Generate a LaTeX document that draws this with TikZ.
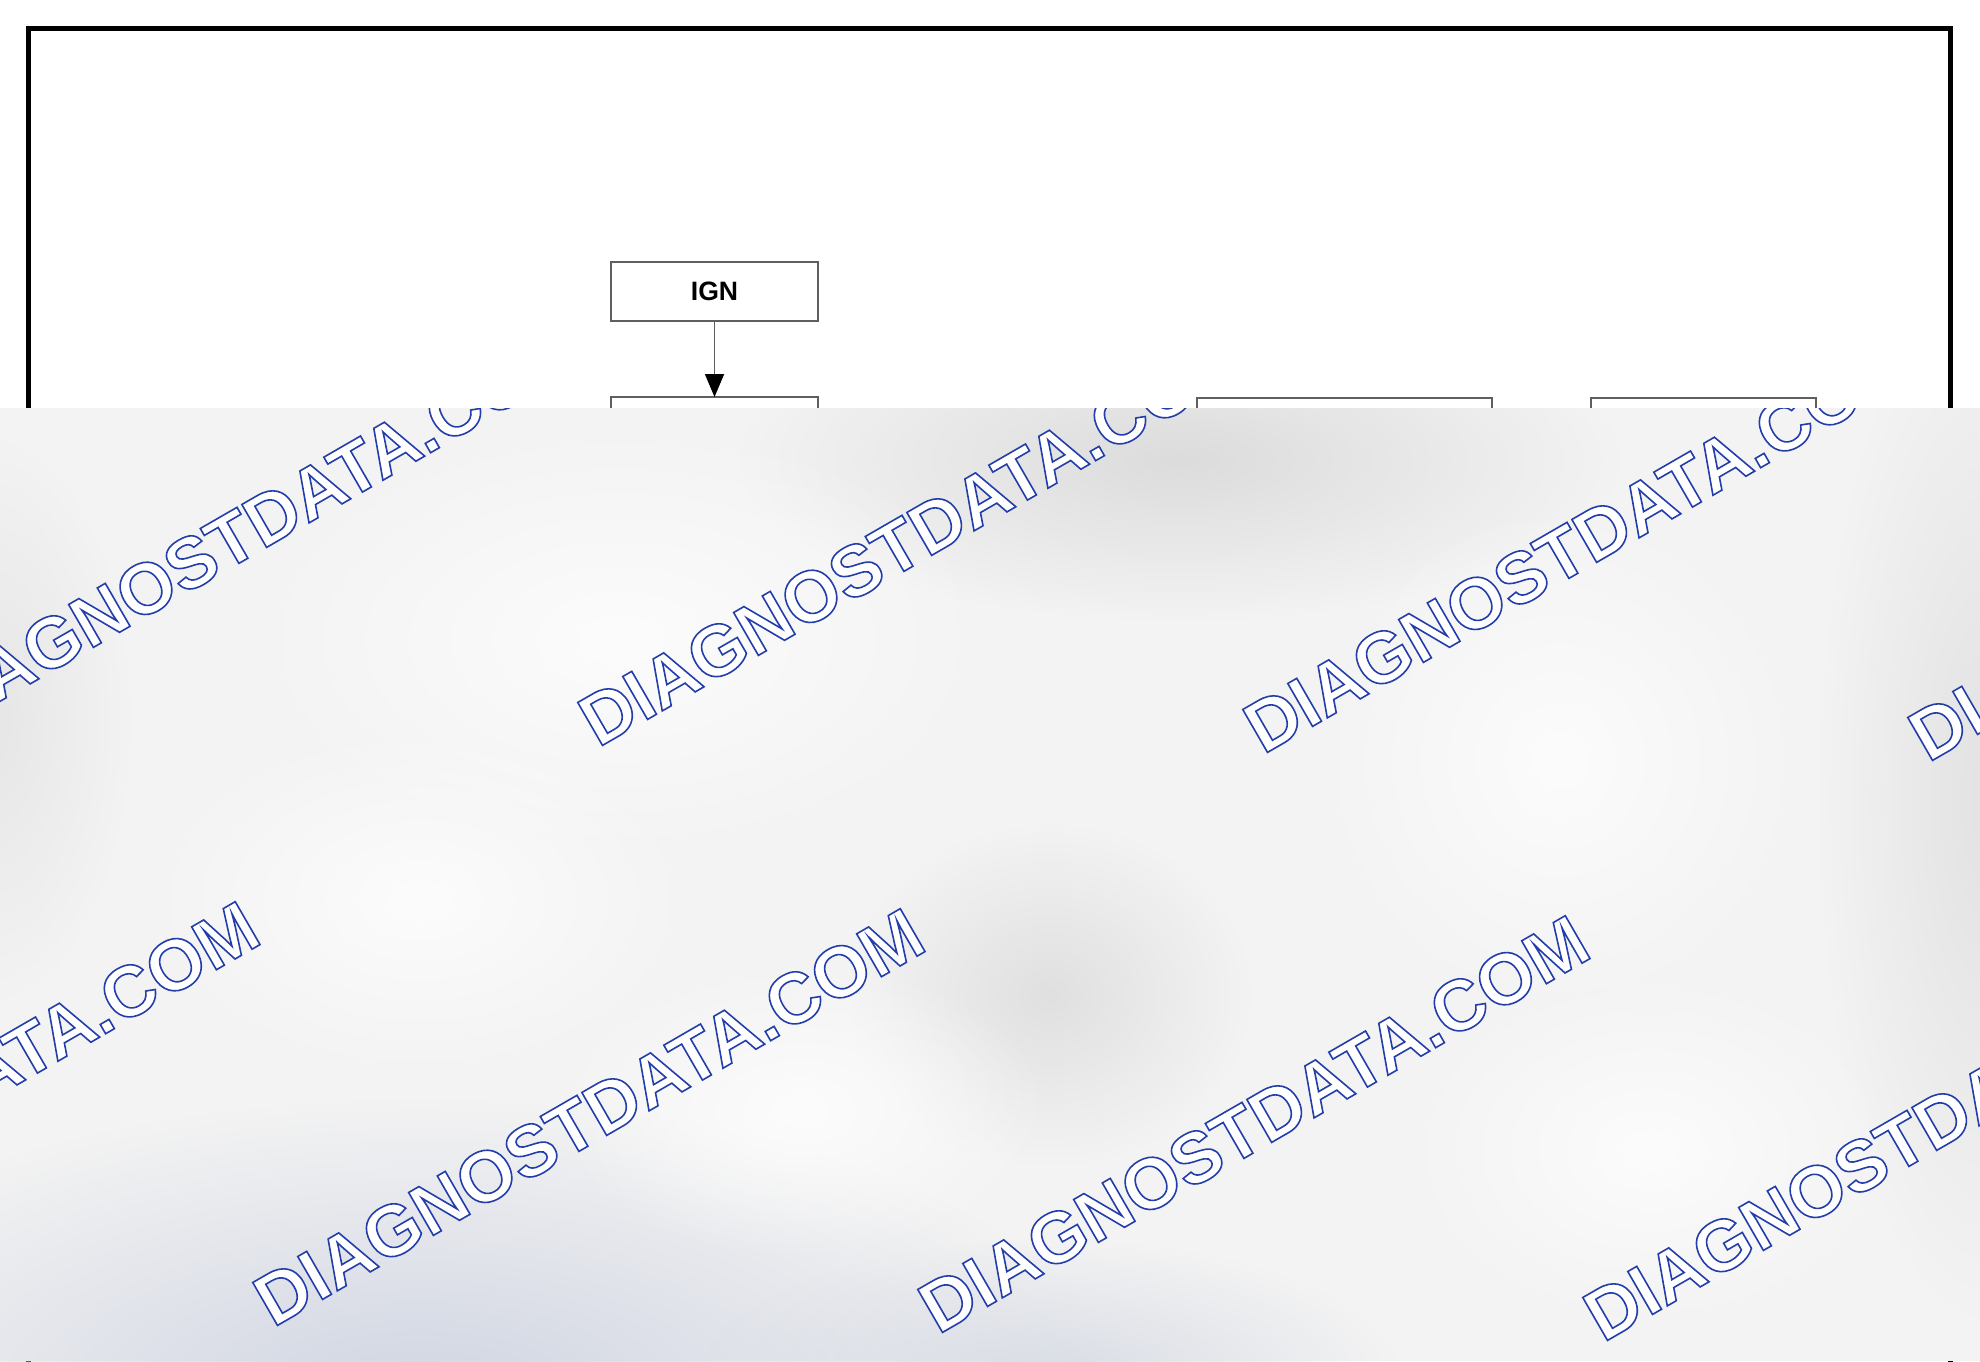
\documentclass[tikz,border=0pt]{standalone}
\usepackage{fontspec}
\setsansfont{Liberation Sans}
\usetikzlibrary{arrows.meta,fadings}
\definecolor{wmblue}{RGB}{35,62,170}
\definecolor{boxgray}{RGB}{95,95,95}
\definecolor{ovbase}{RGB}{243,243,243}
\tikzfading[name=softblob, inner color=transparent!0, outer color=transparent!100]
\tikzset{
  box/.style={draw=boxgray, line width=1.1pt, fill=white, inner sep=0pt, outer sep=0pt, anchor=north west,
    font=\sffamily\bfseries\fontsize{13.3}{16}\selectfont},
  wm/.style={anchor=base west, inner sep=0pt, rotate=30, text=white,
    font=\sffamily\bfseries\fontsize{36}{40}\selectfont},
  flow/.style={draw=boxgray, line width=0.9pt, -{Triangle[width=9.5pt,length=11.5pt,color=black]}},
  frameline/.style={draw=black, line width=2.5pt},
  blob/.style={path fading=softblob},
}
% outlined text: white fill, blue stroke (PDF text render mode 2)
\newcommand\outlined[1]{%
  \special{pdf:literal direct 2 Tr 0.8 w 0.137 0.243 0.667 RG}#1\special{pdf:literal direct 0 Tr}}
\newcommand\wmark[3]{%
  \node[wm] (#1) at (#2,#3) {\outlined{DIAGNOSTDATA.COM}};
}
\begin{document}
\begin{tikzpicture}[x=0.5pt,y=-0.5pt]
\useasboundingbox (0,0) rectangle (1980,1361);
\fill[white] (0,0) rectangle (1980,1361);
% outer frame
\draw[frameline] (28,28.5) rectangle (1950,1450);
% boxes
\node[box, minimum width=103.5pt, minimum height=29.5pt] (ign) at (611,262) {IGN};
\node[box, minimum width=103.5pt, minimum height=60pt] (box2) at (611,397) {};
\node[box, minimum width=147.5pt, minimum height=60pt] (box3) at (1197,398) {};
\node[box, minimum width=112.5pt, minimum height=60pt] (box4) at (1591,398) {};
\draw[flow] (ign.south) -- (box2.north);
% overlay
\begin{scope}
  \clip (0,408) rectangle (1980,1361);
  \fill[ovbase] (0,408) rectangle (1980,1361);
  \fill[blob, color={rgb,255:red,220;green,220;blue,220}] (1180,460) ellipse (440 and 160);
  \fill[blob, color={rgb,255:red,224;green,224;blue,224}] (1050,995) ellipse (200 and 170);
  \fill[blob, color={rgb,255:red,208;green,213;blue,226}] (420,1400) ellipse (700 and 300);
  \fill[blob, color={rgb,255:red,216;green,220;blue,229}] (1050,1380) ellipse (350 and 140);
  \fill[blob, color={rgb,255:red,226;green,226;blue,226}] (1990,800) ellipse (170 and 520);
  \fill[blob, color={rgb,255:red,230;green,230;blue,230}] (-10,720) ellipse (140 and 280);
  \fill[blob, color={rgb,255:red,252;green,252;blue,252}] (620,640) ellipse (380 and 220);
  \fill[blob, color={rgb,255:red,252;green,252;blue,252}] (1560,760) ellipse (250 and 260);
  \fill[blob, color={rgb,255:red,252;green,252;blue,252}] (420,900) ellipse (280 and 180);
  \fill[blob, color={rgb,255:red,252;green,252;blue,252}] (800,1110) ellipse (250 and 150);
  \fill[blob, color={rgb,255:red,252;green,252;blue,252}] (1650,1150) ellipse (250 and 180);
  % watermark
  \wmark{wa}{-67}{740}
  \wmark{wb}{598}{748}
  \wmark{wc}{1263}{755}
  \wmark{wd}{1928}{763}
  \wmark{we}{-392}{1321}
  \wmark{wf}{273}{1328}
  \wmark{wg}{938}{1335}
  \wmark{wh}{1603}{1343}
\end{scope}
\end{tikzpicture}
\end{document}
